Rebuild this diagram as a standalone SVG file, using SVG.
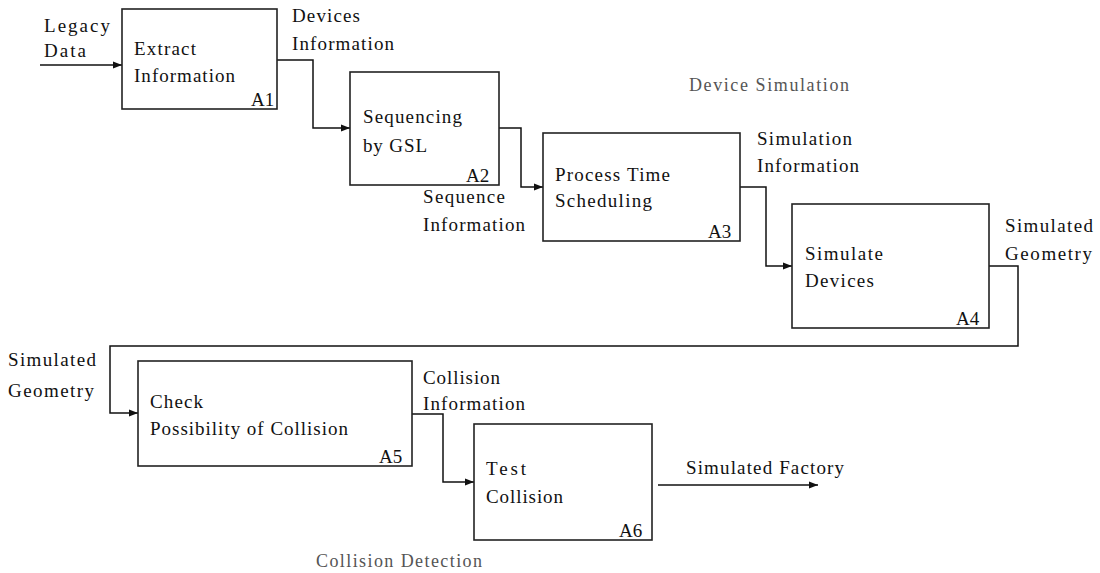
<svg xmlns="http://www.w3.org/2000/svg" width="1100" height="573" viewBox="0 0 1100 573">
<defs>
<style>
.t{font-family:"Liberation Serif","Times New Roman",serif;font-size:19px;fill:#111}
.box{fill:#fff;stroke:#222;stroke-width:1.6}
.ln{fill:none;stroke:#111;stroke-width:1.5}
.cap{font-family:"Liberation Serif","Times New Roman",serif;font-size:18px;fill:#555}
</style>
<marker id="ah" viewBox="0 0 10 10" refX="10" refY="5" markerWidth="9" markerHeight="9" markerUnits="userSpaceOnUse" orient="auto">
<path d="M0,1 L10,5 L0,9 Z" fill="#111"/>
</marker>
</defs>
<rect width="1100" height="573" fill="#fff"/>
<g id="connectors">
<path class="ln" d="M40,65 H122" marker-end="url(#ah)"/>
<path class="ln" d="M277,60 H313 V128 H350" marker-end="url(#ah)"/>
<path class="ln" d="M499,128 H521 V187 H543" marker-end="url(#ah)"/>
<path class="ln" d="M740,187 H766 V266 H792" marker-end="url(#ah)"/>
<path class="ln" d="M989,266 H1018 V346 H110 V413 H138" marker-end="url(#ah)"/>
<path class="ln" d="M412,414 H443 V482 H474" marker-end="url(#ah)"/>
<path class="ln" d="M658,485 H818" marker-end="url(#ah)"/>
</g>
<g id="labels">
<text class="t" x="44" y="32" textLength="66">Legacy</text>
<text class="t" x="44" y="57" textLength="42">Data</text>
<text class="t" x="292" y="22" textLength="68">Devices</text>
<text class="t" x="292" y="50" textLength="102">Information</text>
<text class="t" x="423" y="203" textLength="82">Sequence</text>
<text class="t" x="423" y="231" textLength="102">Information</text>
<text class="t" x="757" y="145" textLength="95">Simulation</text>
<text class="t" x="757" y="172" textLength="102">Information</text>
<text class="t" x="1005" y="232" textLength="88">Simulated</text>
<text class="t" x="1005" y="260" textLength="87">Geometry</text>
<text class="t" x="8" y="366" textLength="88">Simulated</text>
<text class="t" x="8" y="397" textLength="86">Geometry</text>
<text class="t" x="423" y="384" textLength="77">Collision</text>
<text class="t" x="423" y="410" textLength="102">Information</text>
<text class="t" x="686" y="474" textLength="158">Simulated Factory</text>
<text class="cap" x="689" y="91" textLength="160">Device Simulation</text>
<text class="cap" x="316" y="567" textLength="166">Collision Detection</text>
</g>
<g id="A1">
<rect class="box" x="122" y="9" width="155" height="100"/>
<text class="t" x="134" y="55" textLength="62">Extract</text>
<text class="t" x="134" y="82" textLength="101">Information</text>
<text class="t" x="251" y="106">A1</text>
</g>
<g id="A2">
<rect class="box" x="350" y="72" width="149" height="113"/>
<text class="t" x="363" y="123" textLength="99">Sequencing</text>
<text class="t" x="363" y="152" textLength="64">by GSL</text>
<text class="t" x="466" y="182">A2</text>
</g>
<g id="A3">
<rect class="box" x="543" y="133" width="197" height="108"/>
<text class="t" x="555" y="181" textLength="115">Process Time</text>
<text class="t" x="555" y="207" textLength="97">Scheduling</text>
<text class="t" x="708" y="238">A3</text>
</g>
<g id="A4">
<rect class="box" x="792" y="204" width="197" height="124"/>
<text class="t" x="805" y="260" textLength="78">Simulate</text>
<text class="t" x="805" y="287" textLength="69">Devices</text>
<text class="t" x="956" y="325">A4</text>
</g>
<g id="A5">
<rect class="box" x="138" y="361" width="274" height="105"/>
<text class="t" x="150" y="408" textLength="53">Check</text>
<text class="t" x="150" y="435" textLength="198">Possibility of Collision</text>
<text class="t" x="379" y="463">A5</text>
</g>
<g id="A6">
<rect class="box" x="474" y="424" width="178" height="116"/>
<text class="t" x="486" y="475" textLength="40">Test</text>
<text class="t" x="486" y="503" textLength="77">Collision</text>
<text class="t" x="619" y="537">A6</text>
</g>
</svg>
